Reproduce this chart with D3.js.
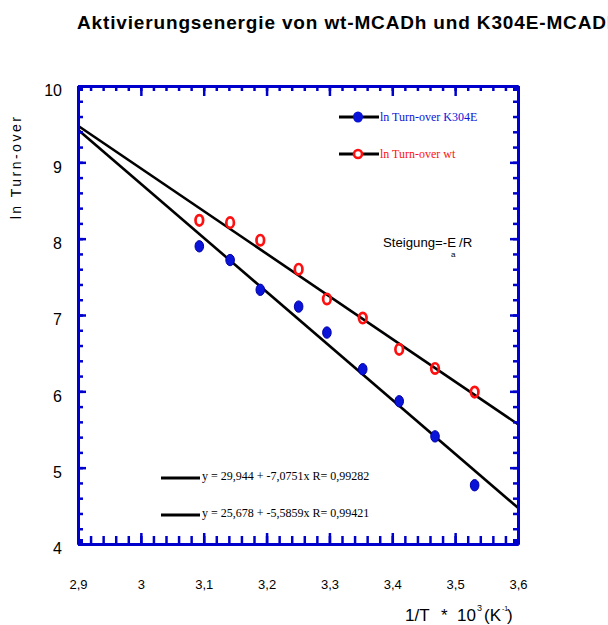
<!DOCTYPE html>
<html>
<head>
<meta charset="utf-8">
<script src="https://cdn.jsdelivr.net/npm/d3@7/dist/d3.min.js"></script>
<style>
  body { margin: 0; background: #fff; }
  svg { display: block; }
  text { white-space: pre; }
</style>
</head>
<body>
<script>
// ---------- data ----------
const chartTitle = "Aktivierungsenergie von wt-MCADh und K304E-MCADh";
const invT = [3.093, 3.142, 3.190, 3.251, 3.296, 3.353, 3.411, 3.468, 3.531];   // 1/T * 10^3
const lnTurnoverK304E = [7.90, 7.72, 7.33, 7.11, 6.77, 6.29, 5.87, 5.41, 4.77];
const lnTurnoverWt    = [8.24, 8.21, 7.98, 7.60, 7.21, 6.96, 6.55, 6.30, 5.99];
const seriesNames = ["ln Turn-over K304E", "ln Turn-over wt"];
const fitIntercepts = [29.944, 25.678];
const fitSlopes = [-7.0751, -5.5859];
const fitR = [0.99282, 0.99421];
const xDomain = [2.9, 3.6];
const yDomain = [4, 10];
const xTickValues = [2.9, 3.0, 3.1, 3.2, 3.3, 3.4, 3.5, 3.6];
const xTickLabels = ["2,9", "3", "3,1", "3,2", "3,3", "3,4", "3,5", "3,6"];
const yTickValues = [4, 5, 6, 7, 8, 9, 10];
const yTickLabels = ["4", "5", "6", "7", "8", "9", "10"];
const yAxisTitle = "ln Turn-over";

// ---------- layout ----------
const W = 608, H = 625;
const pL = 78, pR = 518, pT = 86, pB = 544;
const axisColor = "#0000cc";
const sans = "Arial, 'Liberation Sans', sans-serif";
const serif = "'Times New Roman', 'Liberation Serif', serif";

const svg = d3.select("body").append("svg").attr("width", W).attr("height", H);

const x = d3.scaleLinear().domain(xDomain).range([pL, pR]);
const y = d3.scaleLinear().domain(yDomain).range([pB, pT]);

const fmt = v => String(v).replace(".", ",");

// title
svg.append("text").attr("x", 77).attr("y", 29)
  .attr("font-family", sans).attr("font-weight", "bold").attr("font-size", 19)
  .attr("letter-spacing", 0.85)
  .text(chartTitle);

// ---------- regression lines ----------
const fitG = svg.append("g");
fitIntercepts.forEach((a, i) => {
  const b = fitSlopes[i];
  fitG.append("line")
    .attr("x1", x(xDomain[0])).attr("y1", y(a + b * xDomain[0]))
    .attr("x2", x(xDomain[1])).attr("y2", y(a + b * xDomain[1]))
    .attr("stroke", "#000").attr("stroke-width", 2.6);
});

// ---------- points ----------
const k304e = invT.map((v, i) => [v, lnTurnoverK304E[i]]);
const wt = invT.map((v, i) => [v, lnTurnoverWt[i]]);

svg.append("g").selectAll("ellipse").data(k304e).join("ellipse")
  .attr("cx", d => x(d[0])).attr("cy", d => y(d[1]))
  .attr("rx", 4.3).attr("ry", 5.7)
  .attr("fill", "#0a14d8").attr("stroke", "#0000a8").attr("stroke-width", 1);

svg.append("g").selectAll("ellipse").data(wt).join("ellipse")
  .attr("cx", d => x(d[0])).attr("cy", d => y(d[1]))
  .attr("rx", 3.8).attr("ry", 5.2)
  .attr("fill", "none").attr("stroke", "#ff1010").attr("stroke-width", 2.7);

// ---------- axes ----------
function styleAxis(g) {
  g.select(".domain").attr("stroke", axisColor).attr("stroke-width", 3);
  g.selectAll(".tick line").attr("stroke", axisColor).attr("stroke-width", 2.5);
}
const xMinor = d3.range(2.9, 3.6001, 0.02);
const yMinor = d3.range(4, 10.0001, 0.2);

// bottom
svg.append("g").attr("transform", `translate(0,${pB})`)
  .call(d3.axisBottom(x).tickValues(xMinor).tickSize(-8).tickSizeOuter(0).tickFormat(""))
  .call(styleAxis);
const bx = svg.append("g").attr("transform", `translate(0,${pB})`)
  .call(d3.axisBottom(x).tickValues(xTickValues).tickSize(-11).tickSizeOuter(0)
    .tickPadding(36).tickFormat((d, i) => xTickLabels[i]))
  .call(styleAxis);
bx.selectAll("text").attr("font-family", sans).attr("font-size", 13).attr("fill", "#000");

// top
svg.append("g").attr("transform", `translate(0,${pT})`)
  .call(d3.axisTop(x).tickValues(xMinor).tickSize(-5).tickSizeOuter(0).tickFormat(""))
  .call(styleAxis);
svg.append("g").attr("transform", `translate(0,${pT})`)
  .call(d3.axisTop(x).tickValues(xTickValues).tickSize(-10).tickSizeOuter(0).tickFormat(""))
  .call(styleAxis);

// left
svg.append("g").attr("transform", `translate(${pL},0)`)
  .call(d3.axisLeft(y).tickValues(yMinor).tickSize(-5).tickSizeOuter(0).tickFormat(""))
  .call(styleAxis);
const ly = svg.append("g").attr("transform", `translate(${pL},0)`)
  .call(d3.axisLeft(y).tickValues(yTickValues).tickSize(-8).tickSizeOuter(0)
    .tickPadding(16).tickFormat((d, i) => yTickLabels[i]))
  .call(styleAxis);
ly.selectAll("text").attr("font-family", sans).attr("font-size", 16).attr("fill", "#000").attr("dy", "0.62em");

// right
svg.append("g").attr("transform", `translate(${pR},0)`)
  .call(d3.axisRight(y).tickValues(yMinor).tickSize(-5).tickSizeOuter(0).tickFormat(""))
  .call(styleAxis);
svg.append("g").attr("transform", `translate(${pR},0)`)
  .call(d3.axisRight(y).tickValues(yTickValues).tickSize(-8).tickSizeOuter(0).tickFormat(""))
  .call(styleAxis);

// corner squares
[[pL, pT], [pR - 5, pT], [pL, pB - 5], [pR - 5, pB - 5]].forEach(([cx, cy]) => {
  svg.append("rect").attr("x", cx).attr("y", cy).attr("width", 5).attr("height", 5).attr("fill", axisColor);
});

// ---------- axis titles ----------
svg.append("text")
  .attr("transform", "translate(21,167) rotate(-90)")
  .attr("text-anchor", "middle")
  .attr("font-family", sans).attr("font-size", 14).attr("letter-spacing", 2.5)
  .text(yAxisTitle);

const xt = svg.append("g").attr("font-family", sans).attr("fill", "#000");
xt.append("text").attr("x", 405).attr("y", 621).attr("font-size", 17).text("1/T");
xt.append("text").attr("x", 441).attr("y", 621).attr("font-size", 17).text("*");
xt.append("text").attr("x", 457).attr("y", 621).attr("font-size", 17).text("10");
xt.append("text").attr("x", 477).attr("y", 611).attr("font-size", 9).text("3");
xt.append("text").attr("x", 484).attr("y", 621).attr("font-size", 17).text("(K");
xt.append("text").attr("x", 502).attr("y", 611).attr("font-size", 7).text("-1");
xt.append("text").attr("x", 507).attr("y", 621).attr("font-size", 17).text(")");

// ---------- legend ----------
const legendColors = ["#0a14d8", "#ff1010"];
const legendY = [117, 154];
seriesNames.forEach((name, i) => {
  const g = svg.append("g");
  g.append("line").attr("x1", 339).attr("x2", 379).attr("y1", legendY[i]).attr("y2", legendY[i])
    .attr("stroke", "#000").attr("stroke-width", 3);
  if (i === 0) {
    g.append("ellipse").attr("cx", 358).attr("cy", legendY[i]).attr("rx", 5).attr("ry", 5.5).attr("fill", legendColors[i]);
  } else {
    g.append("circle").attr("cx", 358).attr("cy", legendY[i]).attr("r", 4).attr("fill", "#fff")
      .attr("stroke", legendColors[i]).attr("stroke-width", 2.6);
  }
  g.append("text").attr("x", 380).attr("y", legendY[i] + 3.5)
    .attr("font-family", serif).attr("font-size", 12).attr("fill", legendColors[i]).text(name);
});

// equations
const eqY = [478, 515];
fitIntercepts.forEach((a, i) => {
  svg.append("line").attr("x1", 161).attr("x2", 200).attr("y1", eqY[i]).attr("y2", eqY[i])
    .attr("stroke", "#000").attr("stroke-width", 3);
  svg.append("text").attr("x", 202).attr("y", eqY[i] + 2)
    .attr("font-family", serif).attr("font-size", 12).attr("fill", "#000")
    .text(`y = ${fmt(a)} + ${fmt(fitSlopes[i])}x R= ${fmt(fitR[i])}`);
});

// slope annotation
const st = svg.append("g").attr("font-family", sans).attr("fill", "#000");
st.append("text").attr("x", 383).attr("y", 247).attr("font-size", 13.2).text("Steigung=-E");
st.append("text").attr("x", 451).attr("y", 257).attr("font-size", 8).text("a");
st.append("text").attr("x", 459).attr("y", 247).attr("font-size", 13.2).text("/R");
</script>
</body>
</html>
